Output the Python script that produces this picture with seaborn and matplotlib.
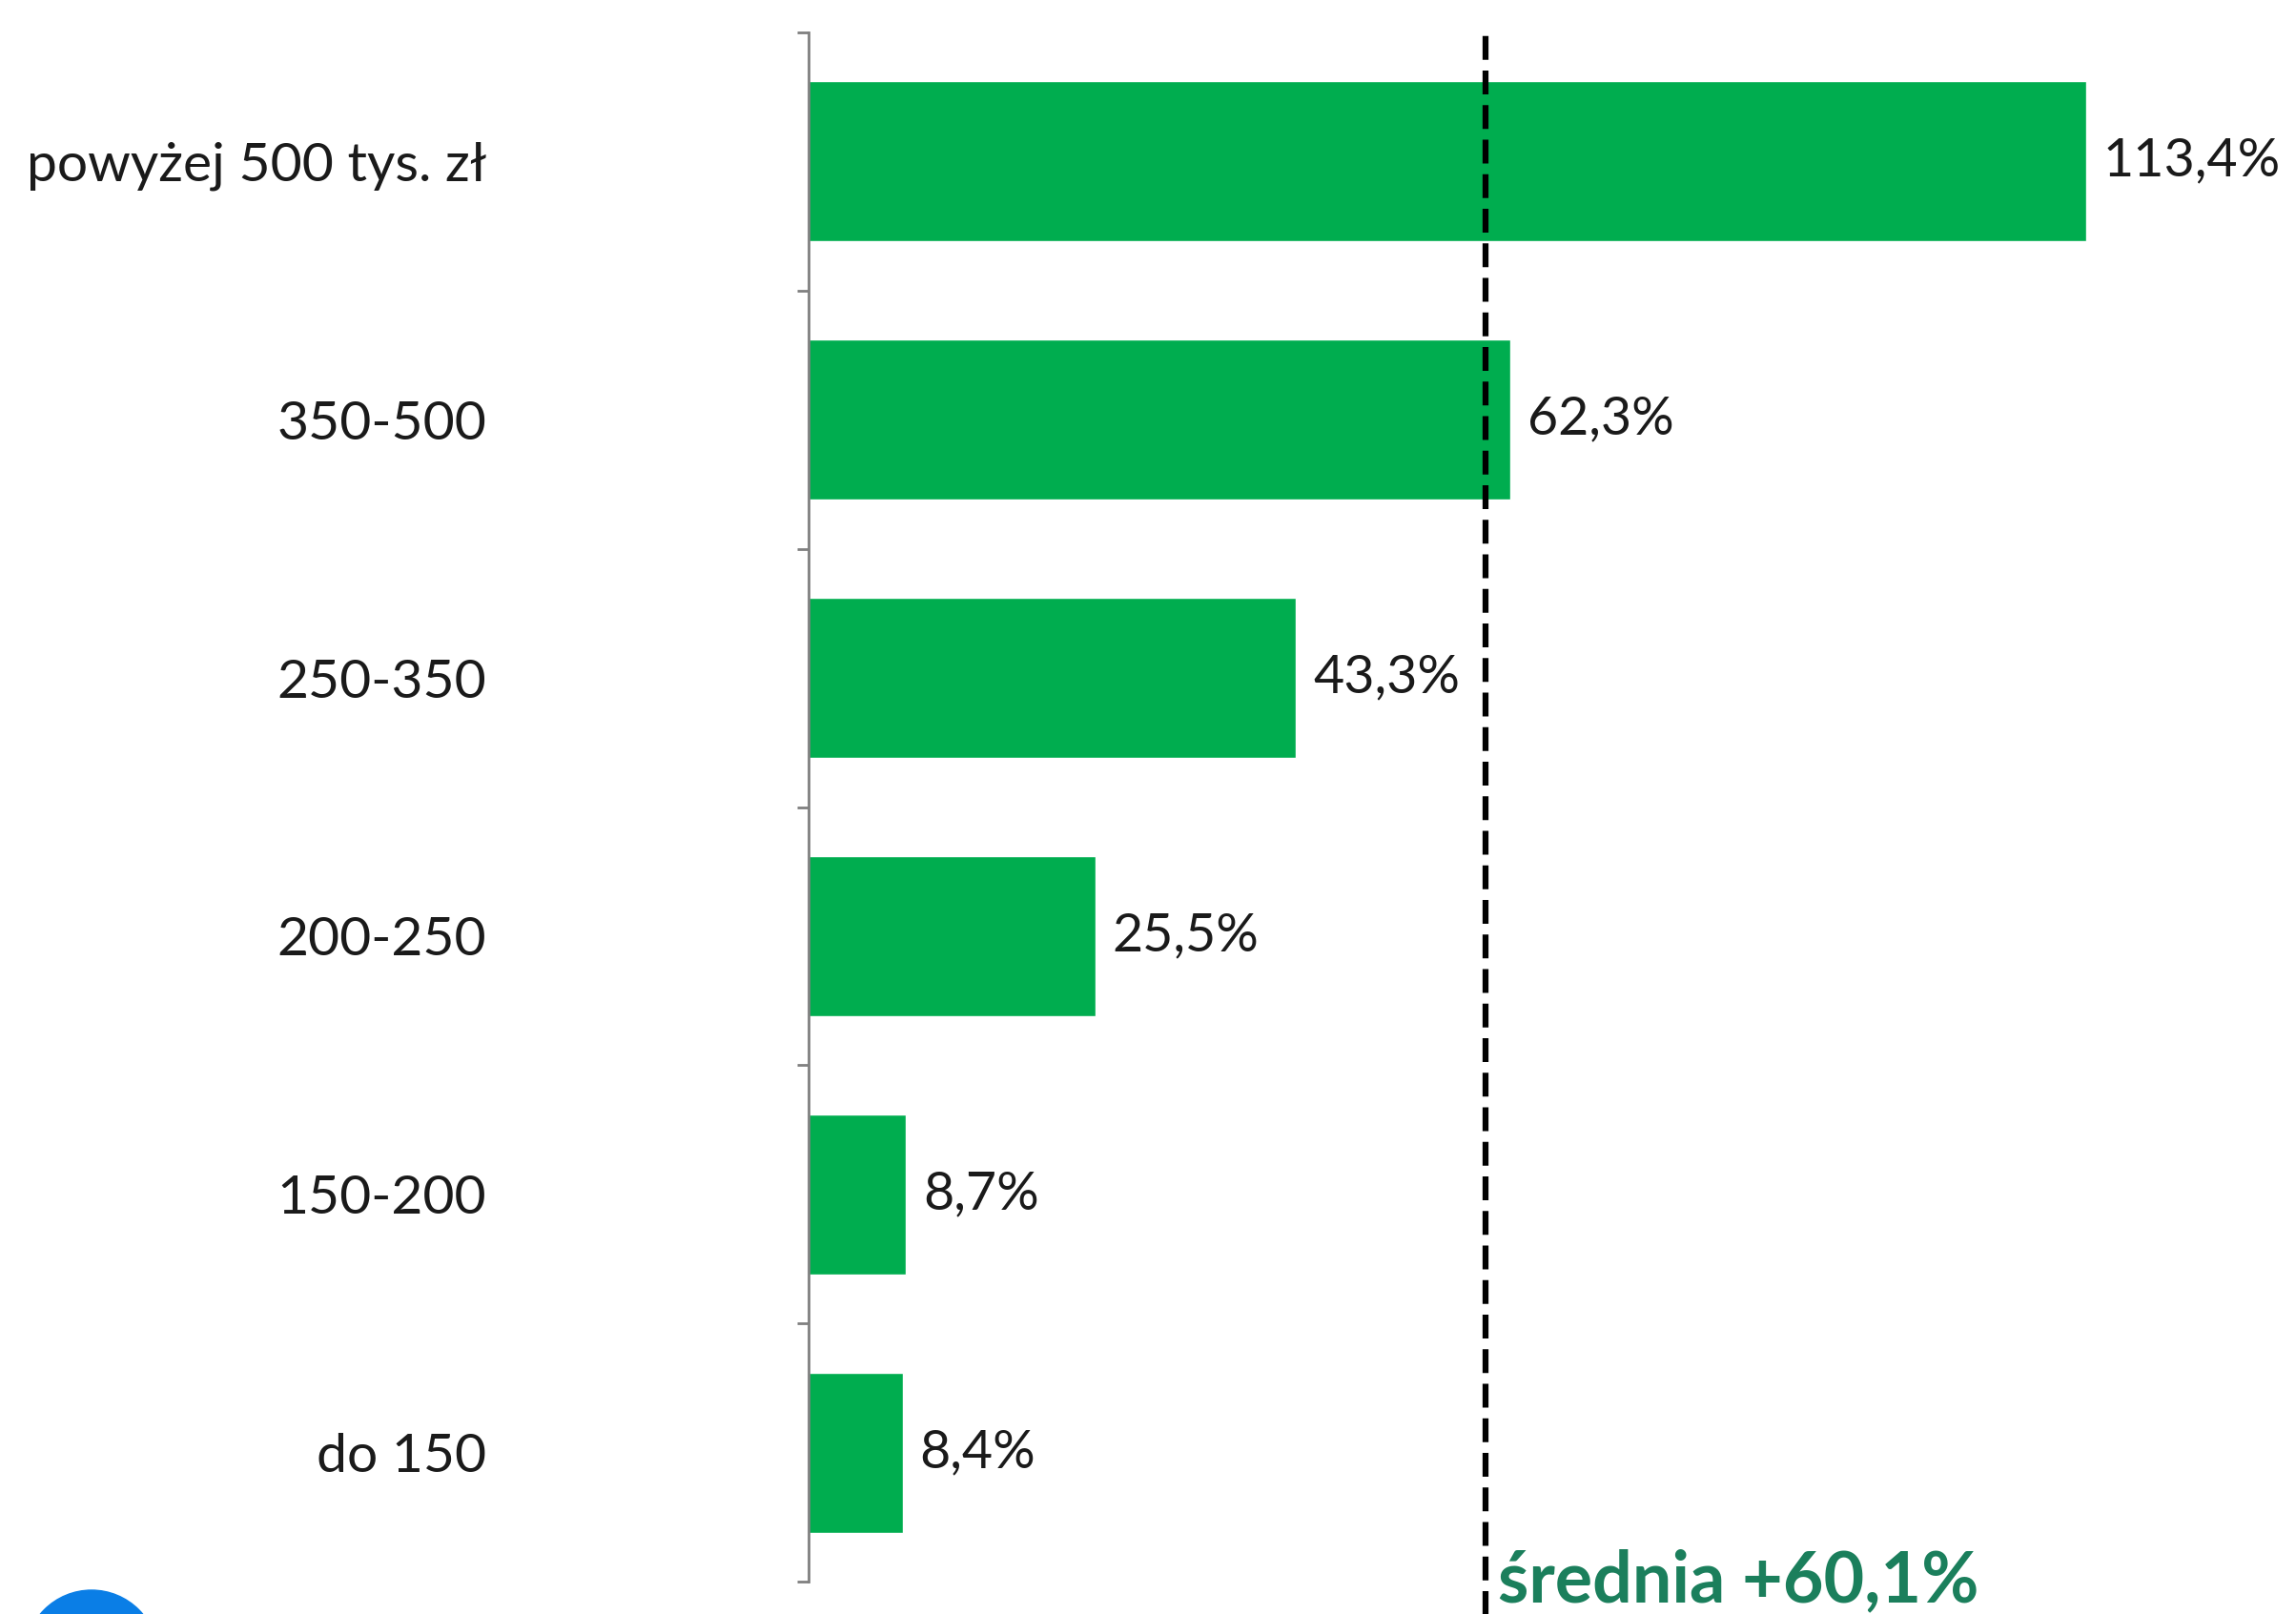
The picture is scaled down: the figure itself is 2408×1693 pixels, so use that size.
import seaborn as sns
import pandas as pd
import matplotlib.pyplot as plt
from matplotlib.patches import Circle
from matplotlib.ticker import FixedLocator

categories = ["powyżej 500 tys. zł", "350-500", "250-350", "200-250", "150-200", "do 150"]
values = [113.4, 62.3, 43.3, 25.5, 8.7, 8.4]
value_labels = ["113,4%", "62,3%", "43,3%", "25,5%", "8,7%", "8,4%"]
mean_value = 60.1
mean_label = "średnia +60,1%"

df = pd.DataFrame({"kat": categories, "val": values})

sns.set_style("white")
plt.rcParams['font.family'] = ['Lato', 'DejaVu Sans']

fig = plt.figure(figsize=(24.08, 16.93), dpi=100)
ax = fig.add_axes([0.352, 0.020, 0.648, 0.960])

sns.barplot(data=df, x="val", y="kat", orient="h", color="#00ad4f",
            saturation=1, width=0.62, ax=ax)

ax.set_xlim(0, 132)
ax.set_ylim(len(categories) - 0.5, -0.5)
ax.set_xlabel("")
ax.set_ylabel("")
ax.set_xticks([])

for s in ["top", "right", "bottom"]:
    ax.spines[s].set_visible(False)
ax.spines["left"].set_color("#808080")
ax.spines["left"].set_linewidth(2)

# category labels at centres, tick marks at boundaries
ax.tick_params(axis="y", which="major", length=0, pad=243, labelsize=41,
               labelcolor="#1a1a1a")
ax.yaxis.set_minor_locator(FixedLocator([i - 0.5 for i in range(len(categories) + 1)]))
ax.tick_params(axis="y", which="minor", length=9, width=2, color="#808080", left=True)

for i, (v, lab) in enumerate(zip(values, value_labels)):
    ax.text(v + 1.5, i, lab, va="center", ha="left", fontsize=40, color="#1a1a1a")

ax.axvline(mean_value, ymin=-0.025, ymax=1.004, color="black", lw=4.5,
           linestyle=(0, (4, 1.8)), clip_on=False, zorder=5)
ax.text(mean_value + 1.1, 5.5, mean_label, ha="left", va="center",
        fontsize=53, fontweight="bold", color="#1b7f5c", clip_on=False)

fig.patches.append(Circle((96, -45), 70, transform=None, color="#0a7ee6", zorder=0))

plt.savefig("out.png", dpi=100)
